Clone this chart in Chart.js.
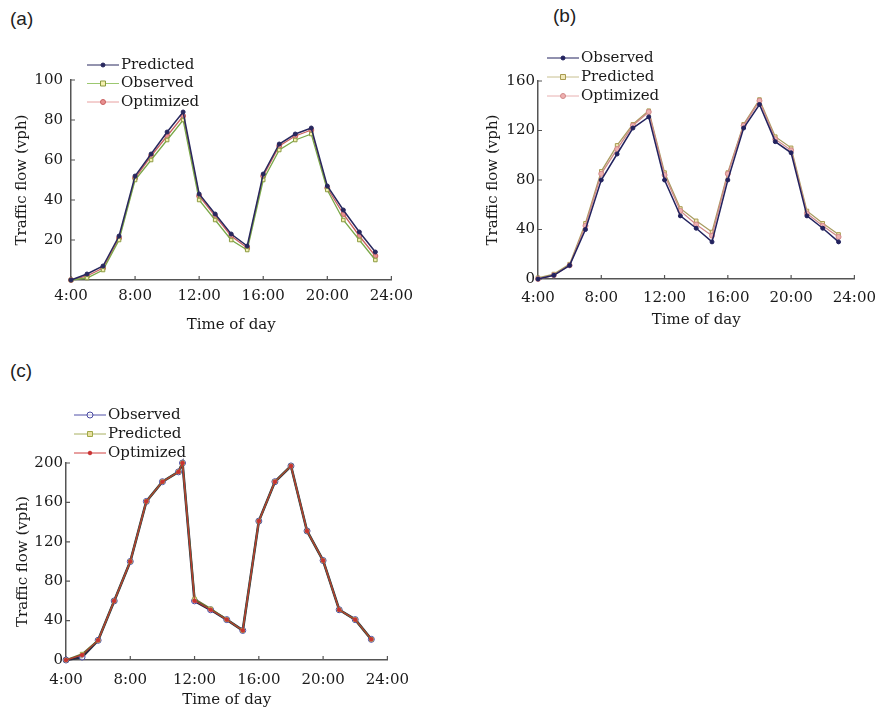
<!DOCTYPE html>
<html>
<head>
<meta charset="utf-8">
<script src="https://cdn.jsdelivr.net/npm/chart.js@4.4.1/dist/chart.umd.min.js"></script>
<style>
  body { margin: 0; background: #fff; width: 886px; height: 714px; position: relative; overflow: hidden; }
  canvas { position: absolute; }
  .tag { position: absolute; font-family: "Liberation Sans", Arial, sans-serif; font-size: 19px; line-height: 1; color: #222; }
</style>
</head>
<body>
<div class="tag" style="left:10px; top:9px">(a)</div>
<div class="tag" style="left:553px; top:6px">(b)</div>
<div class="tag" style="left:10px; top:361px">(c)</div>

<canvas id="chartA" width="420" height="340" style="left:0; top:0"></canvas>
<canvas id="chartB" width="446" height="335" style="left:440px; top:0"></canvas>
<canvas id="chartC" width="420" height="354" style="left:0; top:360px"></canvas>

<script>
// hours of the day (x values)
const hours = [4, 5, 6, 7, 8, 9, 10, 11, 12, 13, 14, 15, 16, 17, 18, 19, 20, 21, 22, 23];
const hoursC = [4, 5, 6, 7, 8, 9, 10, 11, 11.25, 12, 13, 14, 15, 16, 17, 18, 19, 20, 21, 22, 23];

const xTickValues = [4, 8, 12, 16, 20, 24];
const xTickLabels = ["4:00", "8:00", "12:00", "16:00", "20:00", "24:00"];

// (a)
const aPredicted = [0, 3, 7, 22, 52, 63, 74, 84, 43, 33, 23, 17, 53, 68, 73, 76, 47, 35, 24, 14];
const aObserved  = [0, 1, 5, 20, 50, 60, 70, 80, 40, 30, 20, 15, 50, 65, 70, 73, 45, 30, 20, 10];
const aOptimized = [0, 2, 6, 21, 51, 62, 72, 82, 42, 32, 22, 16, 52, 67, 72, 75, 46, 33, 22, 12];
const aYTicks = [20, 40, 60, 80, 100];

// (b)
const bObserved  = [0, 3, 11, 40, 80, 101, 122, 131, 80, 51, 41, 30, 80, 122, 141, 111, 102, 51, 41, 30];
const bPredicted = [1, 4, 12, 45, 87, 108, 125, 136, 86, 57, 47, 38, 86, 125, 145, 115, 106, 55, 45, 36];
const bOptimized = [0, 3, 11, 43, 85, 105, 124, 135, 84, 55, 44, 35, 85, 124, 144, 113, 104, 53, 43, 34];
const bYTicks = [0, 40, 80, 120, 160];

// (c)
const cObserved  = [0, 3, 20, 60, 100, 161, 181, 191, 200, 60, 51, 41, 30, 141, 181, 197, 131, 101, 51, 41, 21];
const cPredicted = [0, 6, 20, 60, 100, 161, 181, 191, 200, 62, 52, 41, 30, 141, 181, 197, 131, 101, 51, 41, 21];
const cOptimized = [0, 5, 20, 60, 100, 161, 181, 191, 200, 60, 51, 41, 30, 141, 181, 197, 131, 101, 51, 41, 21];
const cYTicks = [0, 40, 80, 120, 160, 200];

const FONT = '"DejaVu Serif", serif';
const TEXT = "#1a1a1a";
const AXIS = "#555";

function series(label, xs, ys, st) {
  return {
    label,
    data: xs.map((x, i) => ({ x, y: ys[i] })),
    borderColor: st.line,
    borderWidth: st.width || 1.3,
    pointStyle: st.marker,
    pointRadius: st.radius || 2.5,
    pointBorderWidth: 1,
    pointBorderColor: st.pBorder || st.line,
    pointBackgroundColor: st.pFill || st.line,
    order: st.order || 0,
    tension: 0,
    clip: false
  };
}

// little tick marks pointing into the plot
const innerTicks = {
  id: "innerTicks",
  beforeDatasetsDraw(chart) {
    const { ctx, chartArea, scales } = chart;
    ctx.save();
    ctx.strokeStyle = AXIS;
    ctx.lineWidth = 1.2;
    ctx.beginPath();
    scales.x.ticks.forEach(t => {
      const px = scales.x.getPixelForValue(t.value);
      ctx.moveTo(px, chartArea.bottom);
      ctx.lineTo(px, chartArea.bottom - 4);
    });
    scales.y.ticks.forEach(t => {
      const py = scales.y.getPixelForValue(t.value);
      ctx.moveTo(chartArea.left, py);
      ctx.lineTo(chartArea.left + 4, py);
    });
    ctx.stroke();
    ctx.restore();
  }
};

function drawMarker(ctx, ds, x, y) {
  const r = ds.pointRadius;
  ctx.fillStyle = ds.pointBackgroundColor;
  ctx.strokeStyle = ds.pointBorderColor;
  ctx.lineWidth = 1;
  ctx.beginPath();
  if (ds.pointStyle === "rect") ctx.rect(x - r, y - r, 2 * r, 2 * r);
  else ctx.arc(x, y, r, 0, Math.PI * 2);
  ctx.fill();
  ctx.stroke();
}

// legend sitting over the top-left corner of the plot
const floatLegend = {
  id: "floatLegend",
  afterDraw(chart, args, opts) {
    const ctx = chart.ctx;
    ctx.save();
    ctx.font = "15px " + FONT;
    ctx.textBaseline = "middle";
    chart.data.datasets.forEach((ds, i) => {
      const y = opts.y + i * opts.gap;
      ctx.strokeStyle = opts.colors ? opts.colors[i] : ds.borderColor;
      ctx.lineWidth = 1;
      ctx.beginPath();
      ctx.moveTo(opts.x, y);
      ctx.lineTo(opts.x + 32, y);
      ctx.stroke();
      drawMarker(ctx, ds, opts.x + 16, y);
      ctx.fillStyle = TEXT;
      ctx.fillText(ds.label, opts.x + 34, y);
    });
    ctx.restore();
  }
};

function makePanel(id, datasets, p) {
  new Chart(document.getElementById(id), {
    type: "line",
    data: { datasets },
    options: {
      responsive: false,
      animation: false,
      events: [],
      layout: { padding: { left: 0, top: p.top, right: p.right, bottom: 0 } },
      plugins: {
        legend: { display: false },
        tooltip: { enabled: false },
        floatLegend: p.legend
      },
      scales: {
        x: {
          type: "linear",
          min: 4,
          max: 24,
          afterBuildTicks: s => { s.ticks = xTickValues.map(v => ({ value: v })); },
          afterFit: s => { s.height = p.xHeight; },
          ticks: {
            callback: (v, i) => xTickLabels[i],
            font: { family: FONT, size: 15 },
            color: TEXT,
            padding: p.xPad,
            maxRotation: 0,
            autoSkip: false
          },
          grid: { drawOnChartArea: false, drawTicks: false },
          border: { color: AXIS, width: 1.5 },
          title: { display: true, text: "Time of day", font: { family: FONT, size: 15 }, color: TEXT, padding: { top: 0, bottom: p.xTitlePad } }
        },
        y: {
          min: p.yMin,
          max: p.yMax,
          afterBuildTicks: s => { s.ticks = p.yTicks.map(v => ({ value: v })); },
          afterFit: s => { s.width = p.yWidth; },
          ticks: {
            font: { family: FONT, size: 15 },
            color: TEXT,
            padding: p.yPad
          },
          grid: { drawOnChartArea: false, drawTicks: false },
          border: { color: AXIS, width: 1.5 },
          title: { display: true, text: "Traffic flow (vph)", font: { family: FONT, size: 15 }, color: TEXT, padding: { top: p.yTitlePad, bottom: 0 } }
        }
      }
    },
    plugins: [innerTicks, floatLegend]
  });
}

makePanel("chartA", [
  series("Predicted", hours, aPredicted, { line: "#28285e", width: 1.5, marker: "circle", radius: 2, order: 0 }),
  series("Observed", hours, aObserved, { line: "#7aa848", marker: "rect", radius: 2.5, pBorder: "#8a9a40", pFill: "#f4f0b0", order: 1 }),
  series("Optimized", hours, aOptimized, { line: "#c86060", marker: "circle", radius: 2.5, pFill: "#e89090", order: 2 })
], {
  top: 80, right: 26, xHeight: 60, yWidth: 71, xPad: 7, yPad: 8, xTitlePad: 6, yTitlePad: 13,
  yMin: 0, yMax: 100, yTicks: aYTicks,
  legend: { x: 87, y: 65, gap: 18.5, colors: ["#28285e", "#9cc870", "#e8a0a0"] }
});

makePanel("chartB", [
  series("Observed", hours, bObserved, { line: "#22225e", width: 1.5, marker: "circle", radius: 2, order: 0 }),
  series("Predicted", hours, bPredicted, { line: "#a89c60", marker: "rect", radius: 2.5, pBorder: "#a89a50", pFill: "#f0e8b8", order: 2 }),
  series("Optimized", hours, bOptimized, { line: "#d08888", marker: "circle", radius: 2.5, pFill: "#eeb0b0", order: 1 })
], {
  top: 81, right: 26, xHeight: 56, yWidth: 98, xPad: 10, yPad: 3, xTitlePad: 6, yTitlePad: 44,
  yMin: 0, yMax: 160, yTicks: bYTicks,
  legend: { x: 107, y: 58, gap: 19, colors: ["#22225e", "#c8c090", "#e8b0b0"] }
});

makePanel("chartC", [
  series("Observed", hoursC, cObserved, { line: "#2a2a40", width: 2.6, marker: "circle", radius: 3, pBorder: "#4848a0", pFill: "rgba(255,255,255,0.6)", order: 2 }),
  series("Predicted", hoursC, cPredicted, { line: "#6a6a30", width: 1.8, marker: "rect", radius: 2.5, pBorder: "#a0a848", pFill: "#e8e0a0", order: 1 }),
  series("Optimized", hoursC, cOptimized, { line: "#c83232", width: 1, marker: "circle", radius: 1.8, order: 0 })
], {
  top: 103, right: 31, xHeight: 54, yWidth: 66, xPad: 11, yPad: 3, xTitlePad: 5, yTitlePad: 14,
  yMin: 0, yMax: 200, yTicks: cYTicks,
  legend: { x: 74, y: 55, gap: 19, colors: ["#5050a8", "#a8b060", "#d04040"] }
});
</script>
</body>
</html>
